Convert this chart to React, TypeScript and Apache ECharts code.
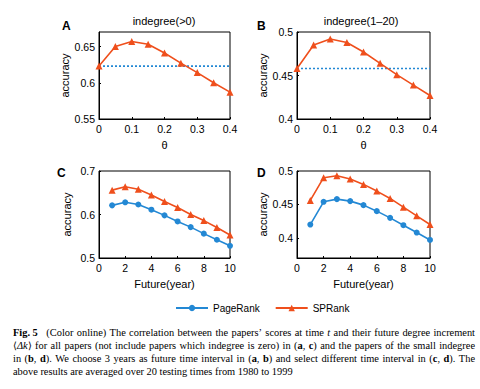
import React, { useEffect, useRef } from "react";
import * as echarts from "echarts";

const thetas = [0, 0.05, 0.1, 0.15, 0.2, 0.25, 0.3, 0.35, 0.4];
const spRankA = [0.623, 0.65, 0.657, 0.653, 0.641, 0.627, 0.614, 0.6, 0.587];
const pageRankA = 0.623;
const spRankB = [0.458, 0.485, 0.492, 0.488, 0.477, 0.464, 0.451, 0.439, 0.427];
const pageRankB = 0.458;
const years = [1, 2, 3, 4, 5, 6, 7, 8, 9, 10];
const spRankC = [0.656, 0.664, 0.658, 0.645, 0.63, 0.616, 0.6, 0.586, 0.57, 0.553];
const pageRankC = [0.621, 0.628, 0.623, 0.611, 0.598, 0.584, 0.571, 0.556, 0.542, 0.528];
const spRankD = [0.456, 0.49, 0.493, 0.488, 0.48, 0.47, 0.459, 0.446, 0.433, 0.42];
const pageRankD = [0.42, 0.454, 0.458, 0.455, 0.449, 0.44, 0.43, 0.419, 0.408, 0.397];

const thetaTicks = [0, 0.1, 0.2, 0.3, 0.4];
const yearTicks = [0, 2, 4, 6, 8, 10];
const yTicksA = [0.55, 0.6, 0.65];
const yTicksB = [0.4, 0.45, 0.5];
const yTicksC = [0.5, 0.6, 0.7];
const yTicksD = [0.4, 0.45, 0.5];

const captionLines = [
  "{b|Fig.\u00a05}\u00a0\u00a0 (Color online) The correlation between the papers’ scores at time {i|t} and their future degree increment",
  "⟨{i|Δk}⟩ for all papers (not include papers which indegree is zero) in ({b|a}, {b|c}) and the papers of the small indegree",
  "in ({b|b}, {b|d}). We choose 3 years as future time interval in ({b|a}, {b|b}) and select different time interval in ({b|c}, {b|d}). The",
  "above results are averaged over 20 testing times from 1980 to 1999",
];

const BLUE = "#2388d4";
const RED = "#ef4f1c";
const SANS = "Liberation Sans, Arial, sans-serif";
const SERIF_NAME = "Liberation Serif";
const SERIF = "Liberation Serif, Times New Roman, serif";
const CAP_SIZE = 10.4;

const grids = [
  { left: 99, top: 32, width: 131, height: 87 },
  { left: 297, top: 32, width: 133, height: 87 },
  { left: 99, top: 171, width: 131, height: 87 },
  { left: 297, top: 171, width: 133, height: 87 },
];

function xAxis(gi: number, min: number, max: number, ticks: number[], name: string) {
  return {
    type: "value",
    gridIndex: gi,
    min,
    max,
    name,
    nameLocation: "middle",
    nameGap: 20,
    nameTextStyle: { fontFamily: SANS, fontSize: 11, color: "#000" },
    axisLine: { show: true, lineStyle: { color: "#000", width: 1 } },
    axisTick: { show: true, inside: true, length: 2, customValues: ticks, lineStyle: { color: "#000" } },
    axisLabel: { customValues: ticks, fontFamily: SANS, fontSize: 10.5, color: "#000", margin: 4 },
    splitLine: { show: false },
  };
}

function yAxis(gi: number, min: number, max: number, ticks: number[], gap: number) {
  return {
    type: "value",
    gridIndex: gi,
    min,
    max,
    name: "accuracy",
    nameLocation: "middle",
    nameGap: gap,
    nameTextStyle: { fontFamily: SANS, fontSize: 11, color: "#000" },
    axisLine: { show: true, lineStyle: { color: "#000", width: 1 } },
    axisTick: { show: true, inside: true, length: 2, customValues: ticks, lineStyle: { color: "#000" } },
    axisLabel: {
      customValues: ticks,
      fontFamily: SANS,
      fontSize: 10.5,
      color: "#000",
      margin: 4,
      formatter: (v: number) => String(Math.round(v * 100) / 100),
    },
    splitLine: { show: false },
  };
}

function pairs(xs: number[], ys: number[]) {
  return xs.map((x, i) => [x, ys[i]]);
}

function lineSeries(name: string, gi: number, data: number[][], color: string, symbol: string, size: number) {
  return {
    type: "line",
    name,
    xAxisIndex: gi,
    yAxisIndex: gi,
    data,
    symbol,
    symbolSize: size,
    showSymbol: true,
    lineStyle: { color, width: 1.6 },
    itemStyle: { color },
  };
}

function parseSegments(word: string) {
  const segs: { s: string; t: string }[] = [];
  const re = /\{(b|i)\|([^}]*)\}|([^{]+)/g;
  let m: RegExpExecArray | null;
  while ((m = re.exec(word))) {
    if (m[3] !== undefined) segs.push({ s: "n", t: m[3] });
    else segs.push({ s: m[1], t: m[2] });
  }
  return segs;
}

function buildCaption(): any[] {
  const canvas = document.createElement("canvas");
  const ctx = canvas.getContext("2d")!;
  const fontFor = (s: string) =>
    `${s === "i" ? "italic " : ""}${s === "b" ? "bold " : ""}${CAP_SIZE}px "${SERIF_NAME}"`;
  const measure = (word: string) =>
    parseSegments(word).reduce((acc, seg) => {
      ctx.font = fontFor(seg.s);
      return acc + ctx.measureText(seg.t).width;
    }, 0);
  ctx.font = fontFor("n");
  const spaceW = ctx.measureText(" ").width;
  const x0 = 13;
  const x1 = 475;
  const ys = [332, 345.3, 358.5, 371.5];
  const els: any[] = [];
  captionLines.forEach((line, li) => {
    const words = line.split(" ").filter((w) => w.length > 0);
    const widths = words.map(measure);
    const total = widths.reduce((a, b) => a + b, 0);
    const justify = li < captionLines.length - 1;
    const gap = justify ? (x1 - x0 - total) / (words.length - 1) : spaceW;
    let x = x0;
    words.forEach((w, wi) => {
      els.push({
        type: "text",
        x,
        y: ys[li],
        style: {
          text: w,
          font: `${CAP_SIZE}px ${SERIF}`,
          fill: "#000",
          verticalAlign: "middle",
          rich: {
            b: { fontWeight: "bold", fontFamily: SERIF, fontSize: CAP_SIZE },
            i: { fontStyle: "italic", fontFamily: SERIF, fontSize: CAP_SIZE },
          },
        },
      });
      x += widths[wi] + gap;
    });
  });
  return els;
}

export default function App() {
  const ref = useRef<HTMLDivElement>(null);
  useEffect(() => {
    if (!ref.current) return;
    const chart = echarts.init(ref.current, undefined, { renderer: "svg" });
    const option: any = {
      animation: false,
      backgroundColor: "#fff",
      grid: grids.map((g) => ({ ...g, show: true, borderColor: "#000", borderWidth: 1, backgroundColor: "transparent" })),
      xAxis: [
        xAxis(0, 0, 0.4, thetaTicks, "θ"),
        xAxis(1, 0, 0.4, thetaTicks, "θ"),
        xAxis(2, 0, 10, yearTicks, "Future(year)"),
        xAxis(3, 0, 10, yearTicks, "Future(year)"),
      ],
      yAxis: [
        yAxis(0, 0.55, 0.67, yTicksA, 27),
        yAxis(1, 0.4, 0.5, yTicksB, 28),
        yAxis(2, 0.5, 0.7, yTicksC, 27),
        yAxis(3, 0.37, 0.5, yTicksD, 28),
      ],
      legend: {
        data: ["PageRank", "SPRank"],
        left: 170,
        top: 298,
        itemWidth: 32,
        itemHeight: 8,
        itemGap: 15,
        textStyle: { fontFamily: SANS, fontSize: 10, color: "#000" },
      },
      series: [
        lineSeries("PageRank", 2, pairs(years, pageRankC), BLUE, "circle", 6),
        lineSeries("SPRank", 2, pairs(years, spRankC), RED, "triangle", 7),
        {
          type: "line",
          name: "PageRank",
          xAxisIndex: 0,
          yAxisIndex: 0,
          data: [[0, pageRankA], [0.4, pageRankA]],
          showSymbol: false,
          symbol: "none",
          lineStyle: { color: BLUE, width: 1.6, type: [2, 2] },
          itemStyle: { color: BLUE },
        },
        lineSeries("SPRank", 0, pairs(thetas, spRankA), RED, "triangle", 7),
        {
          type: "line",
          name: "PageRank",
          xAxisIndex: 1,
          yAxisIndex: 1,
          data: [[0, pageRankB], [0.4, pageRankB]],
          showSymbol: false,
          symbol: "none",
          lineStyle: { color: BLUE, width: 1.6, type: [2, 2] },
          itemStyle: { color: BLUE },
        },
        lineSeries("SPRank", 1, pairs(thetas, spRankB), RED, "triangle", 7),
        lineSeries("PageRank", 3, pairs(years, pageRankD), BLUE, "circle", 6),
        lineSeries("SPRank", 3, pairs(years, spRankD), RED, "triangle", 7),
      ],
      graphic: [
        { type: "text", left: 62, top: 20, style: { text: "A", font: `bold 12px ${SANS}`, fill: "#000" } },
        { type: "text", left: 257, top: 20, style: { text: "B", font: `bold 12px ${SANS}`, fill: "#000" } },
        { type: "text", left: 57, top: 167, style: { text: "C", font: `bold 12px ${SANS}`, fill: "#000" } },
        { type: "text", left: 257, top: 167, style: { text: "D", font: `bold 12px ${SANS}`, fill: "#000" } },
        { type: "text", x: 164, y: 21, style: { text: "indegree(>0)", font: `11px ${SANS}`, fill: "#000", align: "center", verticalAlign: "middle" } },
        { type: "text", x: 361, y: 21, style: { text: "indegree(1–20)", font: `11px ${SANS}`, fill: "#000", align: "center", verticalAlign: "middle" } },
        ...buildCaption(),
      ],
    };
    chart.setOption(option);
    return () => chart.dispose();
  }, []);
  return <div ref={ref} style={{ position: "fixed", left: 0, top: 0, width: 480, height: 389, background: "#fff" }} />;
}
